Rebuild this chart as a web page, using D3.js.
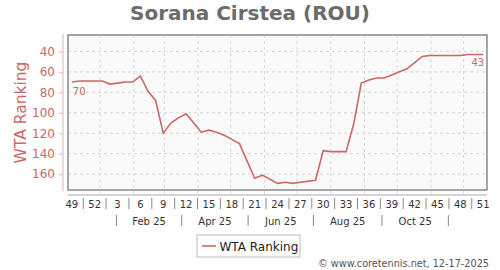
<!DOCTYPE html>
<html>
<head>
<meta charset="utf-8">
<script src="https://cdn.jsdelivr.net/npm/d3@7"></script>
<style>
  body { margin: 0; background: #fff; }
  svg text { font-family: "DejaVu Sans", sans-serif; }
</style>
</head>
<body>
<svg id="chart" width="500" height="270"></svg>
<script>
// weekly WTA ranking, first point is week 49 of 2024
const firstWeek = new Date(2024, 11, 6);
const rankings = [70, 69, 69, 69, 69, 72, 71, 70, 70, 64, 79, 88, 120, 110, 105, 101, 110, 119, 117, 119,
                  122, 126, 130, 147, 164, 161, 165, 169, 168, 169, 168, 167, 166, 137, 138, 138, 138, 111, 71, 68,
                  66, 66, 63, 60, 57, 51, 45, 44, 44, 44, 44, 44, 43, 43, 43];
const yTicks = [40, 60, 80, 100, 120, 140, 160];
const monthLabels = ["Feb 25", "Apr 25", "Jun 25", "Aug 25", "Oct 25"];
const monthBreaks = [new Date(2025, 0, 16), new Date(2025, 2, 17), new Date(2025, 4, 17),
                     new Date(2025, 6, 16), new Date(2025, 8, 17), new Date(2025, 10, 17)];

const svg = d3.select('#chart');
const plot = { left: 68, right: 487, top: 35, bottom: 190 };
const red = '#cd6666';
const day = 864e5;

// one date per weekly ranking
let data = rankings.map((r, i) => ({ date: new Date(+firstWeek + i * 7 * day), rank: r }));

let x = d3.scaleTime()
    .domain([new Date(+data[0].date - 3.5 * day), new Date(+data[data.length - 1].date + 3.5 * day)])
    .range([plot.left, plot.right]);
let y = d3.scaleLinear()
    .domain([24, 175.5])
    .range([plot.top, plot.bottom]);

// title
svg.append('text')
    .attr('x', 250).attr('y', 20)
    .attr('text-anchor', 'middle')
    .attr('font-size', 20).attr('font-weight', 'bold')
    .attr('fill', '#6b6b6b')
    .text('Sorana Cirstea (ROU)');

// plot background and grid
svg.append('rect')
    .attr('x', plot.left).attr('y', plot.top)
    .attr('width', plot.right - plot.left).attr('height', plot.bottom - plot.top)
    .attr('fill', '#fafafa');

let monthStarts = d3.timeMonth.range(new Date(2024, 11, 7), x.domain()[1]);
svg.append('g').selectAll('line')
    .data(monthStarts).join('line')
    .attr('x1', d => x(d)).attr('x2', d => x(d))
    .attr('y1', plot.top).attr('y2', plot.bottom + 5)
    .attr('stroke', '#d8d8d8').attr('stroke-dasharray', '3,3');
svg.append('g').selectAll('line')
    .data(yTicks).join('line')
    .attr('x1', plot.left).attr('x2', plot.right)
    .attr('y1', d => y(d)).attr('y2', d => y(d))
    .attr('stroke', '#d8d8d8').attr('stroke-dasharray', '3,3');

// frame
svg.append('rect')
    .attr('x', plot.left).attr('y', plot.top)
    .attr('width', plot.right - plot.left).attr('height', plot.bottom - plot.top)
    .attr('fill', 'none').attr('stroke', '#777').attr('stroke-width', 1.3);

// y axis
let yAxis = svg.append('g')
    .attr('transform', 'translate(63,0)')
    .call(d3.axisLeft(y).tickValues(yTicks).tickSize(4).tickPadding(4));
yAxis.select('.domain').remove();
yAxis.append('line')
    .attr('y1', plot.top - 1).attr('y2', plot.bottom + 1)
    .attr('stroke', '#e2b4b4');
yAxis.selectAll('.tick line').attr('stroke', '#e2b4b4');
yAxis.selectAll('text')
    .attr('font-size', 12).attr('fill', red)
    .style('font-family', '"DejaVu Sans", sans-serif');

svg.append('text')
    .attr('transform', 'translate(26,' + ((plot.top + plot.bottom) / 2) + ') rotate(-90)')
    .attr('text-anchor', 'middle')
    .attr('font-size', 15.5)
    .attr('fill', red)
    .text('WTA Ranking');

// x axis: week numbers every 3 weeks with separators
svg.append('line')
    .attr('x1', plot.left).attr('x2', plot.right)
    .attr('y1', plot.bottom + 5).attr('y2', plot.bottom + 5)
    .attr('stroke', '#aaa');

let weekFmt = d3.timeFormat('%V');
let labelled = data.filter((d, i) => i % 3 == 0);
svg.append('g').selectAll('text')
    .data(labelled).join('text')
    .attr('x', d => x(d.date)).attr('y', 208)
    .attr('text-anchor', 'middle')
    .attr('font-size', 10).attr('fill', '#333')
    .text(d => +weekFmt(d.date));
svg.append('g').selectAll('line')
    .data(labelled.slice(0, -1)).join('line')
    .attr('x1', d => x(new Date(+d.date + 10.5 * day)))
    .attr('x2', d => x(new Date(+d.date + 10.5 * day)))
    .attr('y1', 198).attr('y2', 209)
    .attr('stroke', '#888');

// month bands
svg.append('g').selectAll('line')
    .data(monthBreaks).join('line')
    .attr('x1', d => x(d)).attr('x2', d => x(d))
    .attr('y1', 215).attr('y2', 226)
    .attr('stroke', '#888');
svg.append('g').selectAll('text')
    .data(monthLabels).join('text')
    .attr('x', (d, i) => (x(monthBreaks[i]) + x(monthBreaks[i + 1])) / 2)
    .attr('y', 225)
    .attr('text-anchor', 'middle')
    .attr('font-size', 10).attr('fill', '#333')
    .text(d => d);

// ranking line
let line = d3.line()
    .x(d => x(d.date))
    .y(d => y(d.rank));
svg.append('path')
    .datum(data)
    .attr('d', line)
    .attr('fill', 'none')
    .attr('stroke', red)
    .attr('stroke-width', 1.6);

// first and last values
let first = data[0], last = data[data.length - 1];
svg.append('text')
    .attr('x', x(first.date) + 1).attr('y', y(first.rank) + 13)
    .attr('font-size', 10).attr('fill', red)
    .text(first.rank);
svg.append('text')
    .attr('x', x(last.date) + 1).attr('y', y(last.rank) + 12)
    .attr('text-anchor', 'end')
    .attr('font-size', 10).attr('fill', red)
    .text(last.rank);

// legend
let legend = svg.append('g').attr('transform', 'translate(197,235)');
legend.append('rect')
    .attr('width', 103).attr('height', 22)
    .attr('fill', '#fff').attr('stroke', '#bbb');
legend.append('line')
    .attr('x1', 5).attr('x2', 19).attr('y1', 11).attr('y2', 11)
    .attr('stroke', red).attr('stroke-width', 1.6);
legend.append('text')
    .attr('x', 22.5).attr('y', 15.5)
    .attr('font-size', 12).attr('fill', '#222')
    .text('WTA Ranking');

// credit
svg.append('text')
    .attr('x', 489).attr('y', 267)
    .attr('text-anchor', 'end')
    .attr('font-size', 9.7).attr('fill', '#555')
    .text('\u00a9 www.coretennis.net, 12-17-2025');
</script>
</body>
</html>
